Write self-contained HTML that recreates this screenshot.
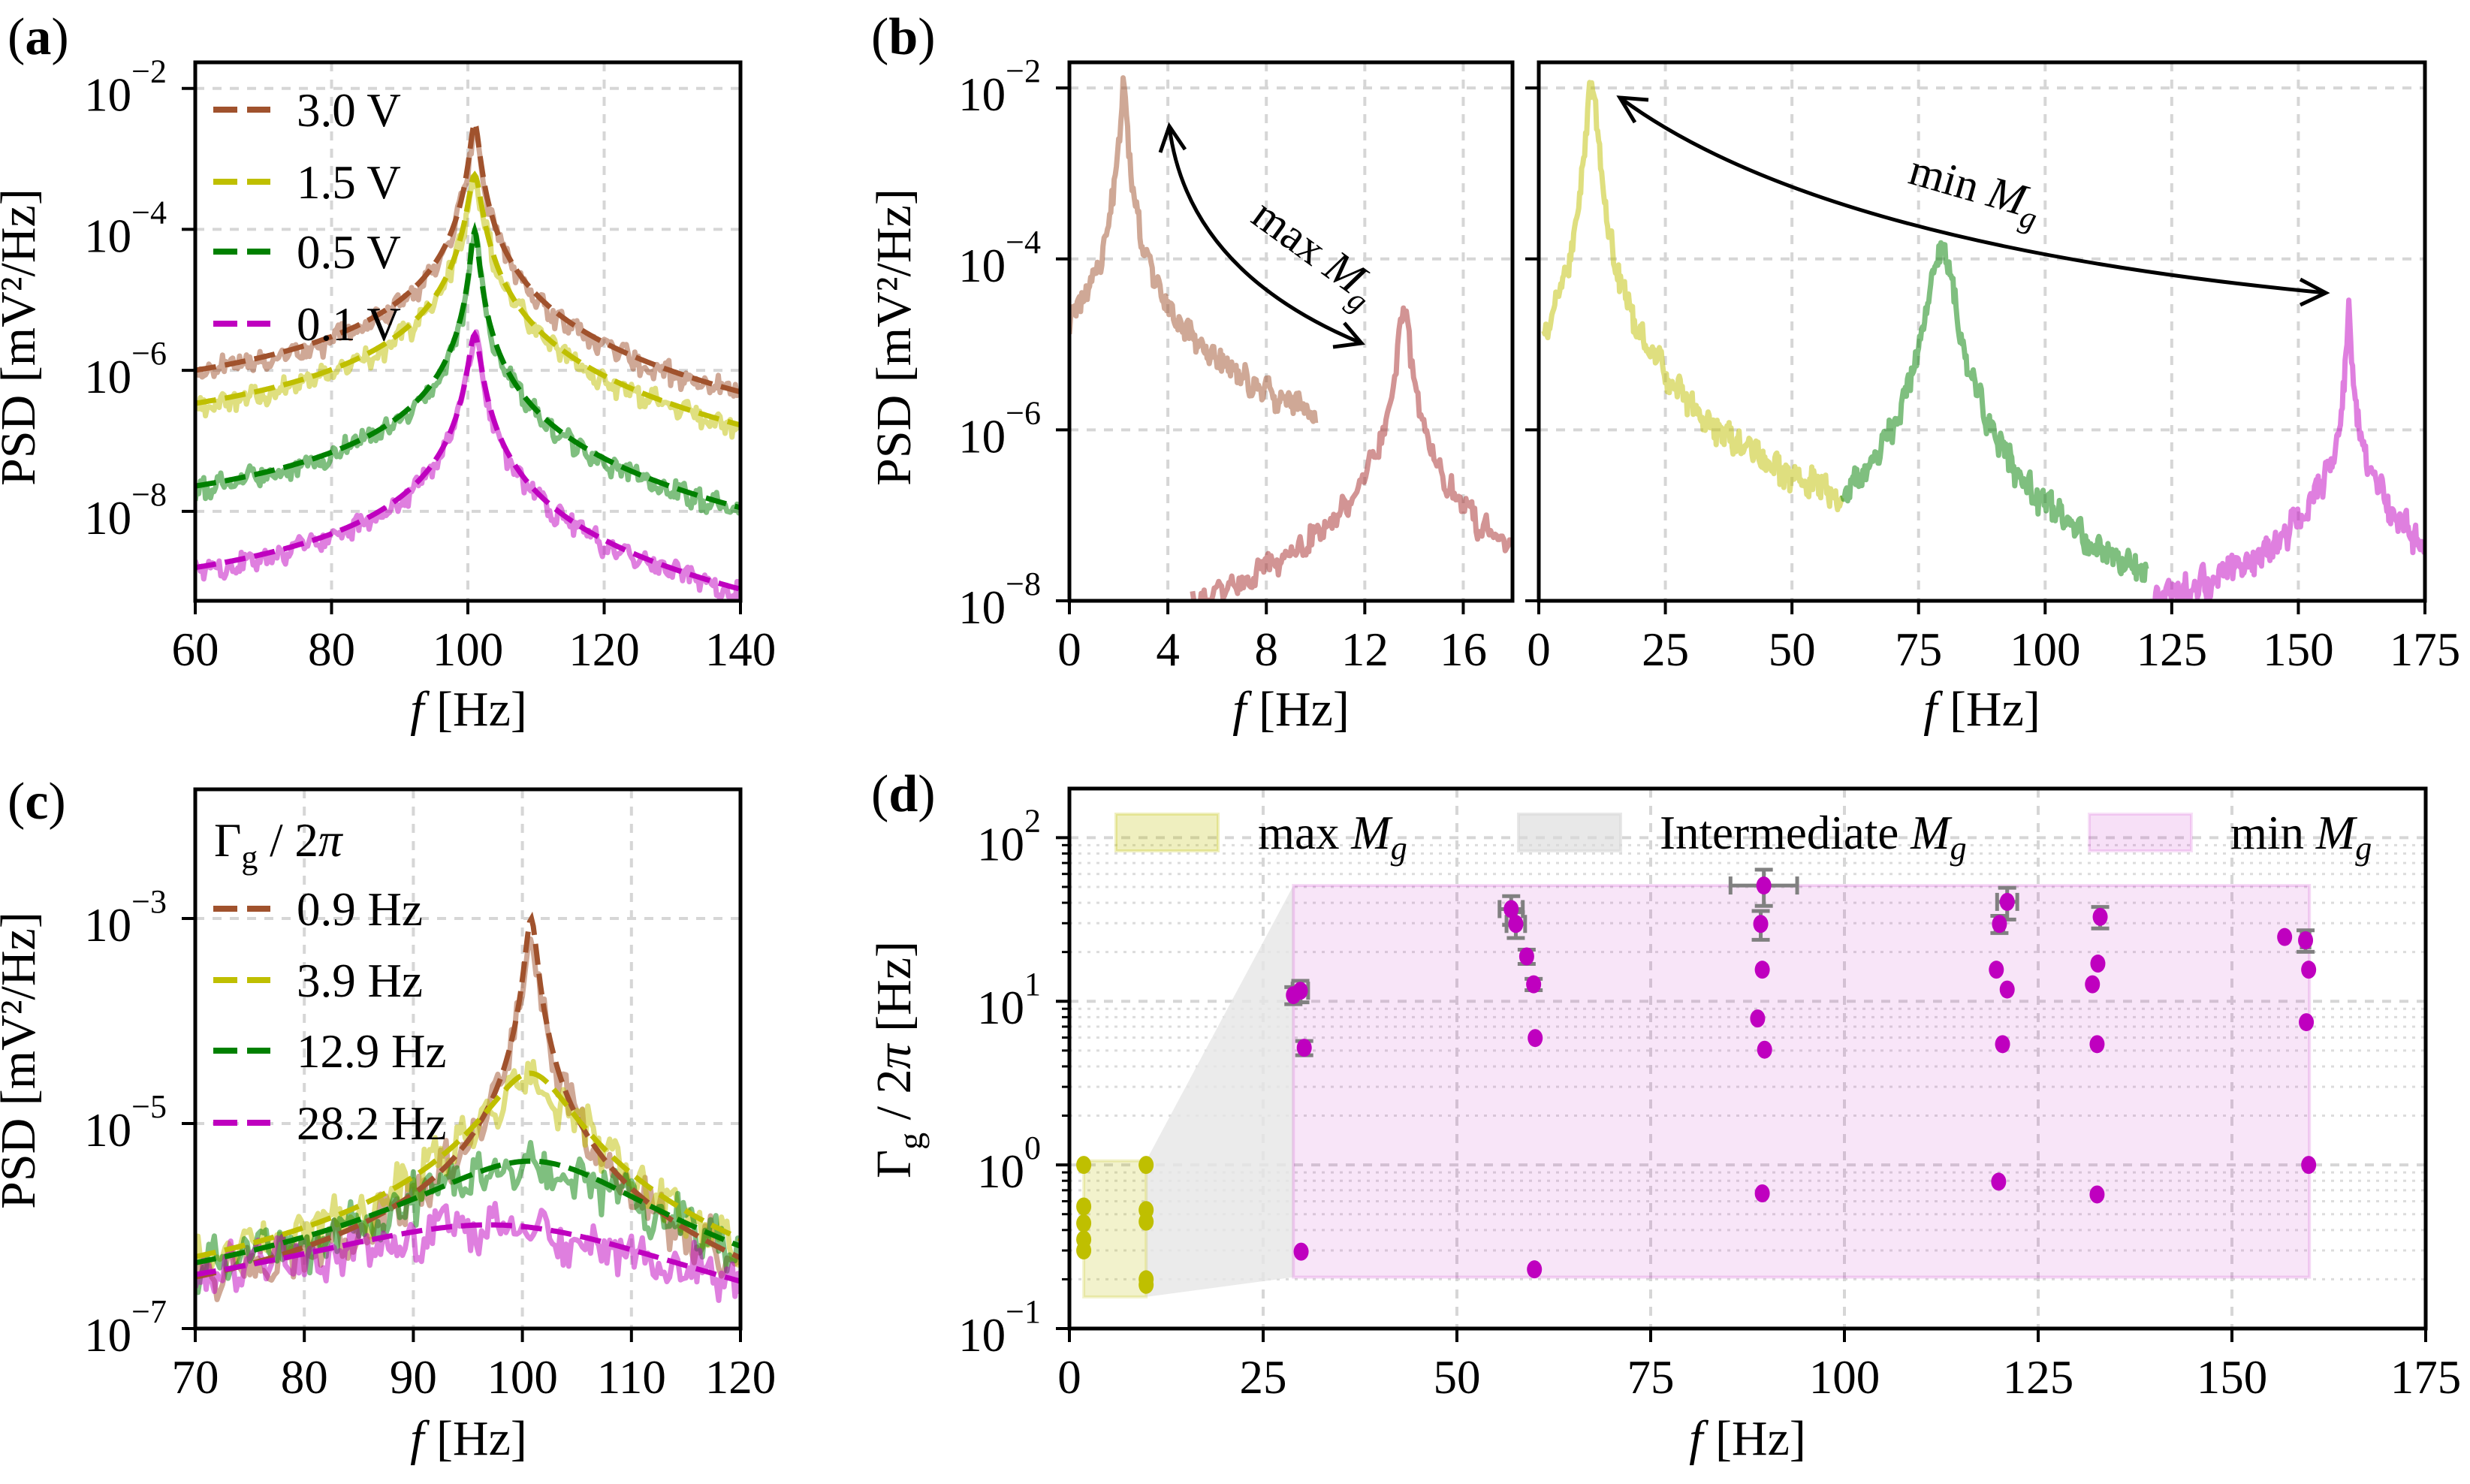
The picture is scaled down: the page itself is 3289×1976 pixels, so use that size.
<!DOCTYPE html>
<html><head><meta charset="utf-8"><style>
html,body{margin:0;padding:0;background:#fff;}
svg, svg text{font-family:"Liberation Serif","Times New Roman",serif;}
</style></head><body>
<svg id="fig" xmlns="http://www.w3.org/2000/svg" width="3289" height="1971" viewBox="0 0 3289 1971" font-family="Liberation Serif, serif">
<defs>
<clipPath id="clipA"><rect x="260" y="83" width="726" height="717"/></clipPath>
<clipPath id="clipB1"><rect x="1424" y="83" width="590" height="717"/></clipPath>
<clipPath id="clipB2"><rect x="2049" y="83" width="1180" height="717"/></clipPath>
<clipPath id="clipC"><rect x="260" y="1051" width="726" height="718"/></clipPath>
<clipPath id="clipD"><rect x="1424" y="1050" width="1806" height="719"/></clipPath>
</defs>
<g id="root" font-family="Liberation Serif, serif"></g>
</svg>
<script>
// ---------- data ----------
const noiseVals=[0.3,-0.5,0.8,-0.2,0.1,-0.9,0.6,0.2,-0.4,0.7,-0.7,0.0,0.5,-0.3,0.9,-0.6,0.2,-0.1,0.4,-0.8,0.6,-0.2,0.3,-0.5,0.1,0.8,-0.4,-0.9,0.5,0.2,-0.3,0.7,-0.1,0.4,-0.6,0.9,-0.2,0.1,-0.7,0.3,0.6,-0.4,0.2,-0.8,0.5,0.0,-0.5,0.7,-0.3,0.4,-0.1,0.8,-0.6,0.2,-0.9,0.3,0.5,-0.2,0.6,-0.4,0.1,-0.7,0.9,-0.3,0.2,-0.5,0.4,-0.1,0.7,-0.8,0.3,0.0,-0.6,0.5,-0.2,0.8,-0.4,0.1,-0.9,0.6,-0.3,0.4,0.2,-0.7,0.5,-0.1,0.3,-0.5,0.9,-0.2,0.1,-0.6,0.7,-0.4,0.2,-0.8,0.4];
// panel (a): drive voltages, harmonic oscillator fits
const aLabels=["3.0 V","1.5 V","0.5 V","0.1 V"];
const aPeakLog=[-2.49,-3.23,-4.02,-5.49];
const aGamma=[1.15,1.57,1.01,1.45];
const aF0=[101,101,101,101];
const aColors=["#a0522d","#bfbf00","#008000","#bf00bf"];
// panel (b)
const b1F0=[2.2,13.6], b1Peak=[-1.93,-4.59], b1Width=[0.09,0.17], b1Pow=[2,2], b1Start=[0,5], b1End=[10,18];
const b1Colors=["#a0522d","#a52a2a"];
const b2F0=[10.5,79.5,160], b2Peak=[-2.08,-3.92,-4.5], b2Width=[0.89,1.82,0.25], b2Pow=[2.7,2.8,1.6], b2Start=[1,60,120], b2End=[60,120,175];
const b2Colors=["#bfbf00","#008000","#bf00bf"];
// panel (c)
const cLabels=["0.9 Hz","3.9 Hz","12.9 Hz","28.2 Hz"];
const cPeakLog=[-3.0,-4.51,-5.37,-6.0];
const cGamma=[0.93,6.67,17.5,31.9];
const cF0=[100.8,100.8,101.5,99.5];
// panel (d)
const dYellowF=[1.85,1.85,1.85,1.85,1.85,9.9,9.9,9.9,9.9,9.9];
const dYellowG=[1.0,0.557,0.44,0.35,0.30,1.0,0.53,0.45,0.2,0.185];
const dMagF=[28.9,29.8,30.3,29.9,57.0,57.6,59.0,59.9,60.1,60.0,89.6,89.2,89.4,88.8,89.7,89.4,121.0,120.0,119.6,121.0,120.4,119.9,133.0,132.7,132.0,132.6,132.6,156.8,159.5,159.9,159.6,159.9];
const dMagG=[10.9,11.6,5.2,0.295,36.6,29.7,18.8,12.7,5.96,0.23,51,29.7,15.6,7.85,5.06,0.67,40.5,29.7,15.6,11.8,5.47,0.79,32.8,17.0,12.7,5.47,0.66,24.7,23.6,15.6,7.45,1.0];
const dXErr=[0,1.0,0,0,1.5,1.2,0,0,0,0,4.3,0,0,0,0,0,1.3,0.5,0,0,0,0,0,0,0,0,0,0,0.5,0,0,0];
const dYErrRel=[0.12,0.15,0.1,0,0.2,0.18,0.1,0.08,0,0,0.25,0.2,0,0,0,0,0.22,0.12,0,0,0,0,0.15,0,0,0,0,0,0.15,0,0,0];
const dYellowBox=[1.85,9.9,0.156,1.06];
const dPinkBox=[28.9,160.0,0.206,51];

// ---------- helpers ----------
const NS="http://www.w3.org/2000/svg";
const FONT="Liberation Serif, serif";
const root=document.getElementById('root');
function el(tag,attrs,parent){const e=document.createElementNS(NS,tag);for(const k in attrs)e.setAttribute(k,attrs[k]);if(tag==='text')e.setAttribute('font-family',FONT);(parent||root).appendChild(e);return e;}
function linX(x0,x1,p0,p1){return v=>p0+(v-x0)/(x1-x0)*(p1-p0);}
function logY(l0,l1,p0,p1){return v=>p0+(Math.log10(v)-l0)/(l1-l0)*(p1-p0);}
function logYl(l0,l1,p0,p1){return lv=>p0+(lv-l0)/(l1-l0)*(p1-p0);}
function ho(f,f0,g,pk){const d=(f0*f0-f*f);return pk+Math.log10(g*g*f0*f0/(d*d+g*g*f*f));}
function lor(f,f0,g,p,pk){return pk-Math.log10(1+Math.pow(Math.abs(f-f0)/g,p));}
function nz(i,off){const N=noiseVals.length;return 0.6*noiseVals[(i*13+off)%N]+0.4*noiseVals[(Math.floor(i/3)*7+off*3)%N];}
function pathFrom(pts){return pts.map((p,i)=>(i?'L':'M')+p[0].toFixed(1)+' '+p[1].toFixed(1)).join('');}
function grid(g,x1,y1,x2,y2,dash){return el('line',{x1,y1,x2,y2,stroke:'#d6d6d6','stroke-width':4,'stroke-dasharray':dash||'12,11'},g);}
function ytickLabel(g,x,y,exp){const t=el('text',{x:x,y:y+30,'text-anchor':'end','font-size':63},g);t.textContent='10';const s=el('tspan',{dy:-38,'font-size':44},t);s.textContent=exp;return t;}
function axesFrame(g,x0,y0,x1,y1){el('rect',{x:x0,y:y0,width:x1-x0,height:y1-y0,fill:'none',stroke:'#000','stroke-width':5},g);}
function xlabel(g,cx,y){const t=el('text',{x:cx,y:y,'text-anchor':'middle','font-size':66},g);const a=el('tspan',{'font-style':'italic'},t);a.textContent='f';const b=el('tspan',{},t);b.textContent=' [Hz]';}
function psdLabel(g,cx,cy){const t=el('text',{x:0,y:0,'text-anchor':'middle','font-size':66,transform:`translate(${cx},${cy}) rotate(-90)`},g);t.textContent='PSD [mV²/Hz]';}
function panelLabel(x,y,ch){const t=el('text',{x:x,y:y,'font-size':70});t.textContent='(';const b=el('tspan',{'font-weight':'bold'},t);b.textContent=ch;const c=el('tspan',{},t);c.textContent=')';}
function xticks(g,vals,X,yb,labels){vals.forEach((v,i)=>{el('line',{x1:X(v),y1:yb,x2:X(v),y2:yb+18,stroke:'#000','stroke-width':4},g);if(labels){const t=el('text',{x:X(v),y:yb+86,'text-anchor':'middle','font-size':63},g);t.textContent=labels[i];}});}

// ================= Panel (a) =================
(function(){
const g=el('g',{});
const X=linX(60,140,260,986), Y=logYl(-9.27,-1.63,800,83);
const xt=[60,80,100,120,140];
[80,100,120].forEach(v=>grid(g,X(v),83,X(v),800));
[-2,-4,-6,-8].forEach(v=>grid(g,260,Y(v),986,Y(v)));
const cg=el('g',{'clip-path':'url(#clipA)'},g);
for(let k=0;k<4;k++){
 const pts=[];for(let i=0;i<=320;i++){const f=60+80*i/320;pts.push([X(f),Y(ho(f,aF0[k],aGamma[k],aPeakLog[k])+0.22*nz(i,k*17)-0.05)]);}
 const p=el('path',{d:pathFrom(pts),fill:'none',stroke:aColors[k],'stroke-opacity':0.5,'stroke-width':7,'stroke-linejoin':'round'},cg);
 
}
for(let k=0;k<4;k++){
 const pts=[];for(let i=0;i<=400;i++){const f=60+80*i/400;pts.push([X(f),Y(ho(f,aF0[k],aGamma[k],aPeakLog[k]))]);}
 const p=el('path',{d:pathFrom(pts),fill:'none',stroke:aColors[k],'stroke-width':7,'stroke-dasharray':'28,12'},cg);
 
}
axesFrame(g,260,83,986,800);
xticks(g,xt,X,800,xt.map(String));
[-2,-4,-6,-8].forEach(v=>{el('line',{x1:242,y1:Y(v),x2:260,y2:Y(v),stroke:'#000','stroke-width':4},g);ytickLabel(g,222,Y(v),'−'+(-v));});
const ly=[146,242,335,431];
aLabels.forEach((s,k)=>{const l=el('line',{x1:284,y1:ly[k],x2:360,y2:ly[k],stroke:aColors[k],'stroke-width':8,'stroke-dasharray':'32,13'},g);
 
 const t=el('text',{x:395,y:ly[k]+22,'font-size':63},g);t.textContent=s;});
psdLabel(g,46,449);xlabel(g,624,966);
})();
panelLabel(10,72,'a');

// ================= Panel (b) =================
(function(){
const g=el('g',{});
const Y=logYl(-8,-1.70,800,83);
const X1=linX(0,18,1424,2014), X2=linX(0,175,2049,3229);
[4,8,12,16].forEach(v=>grid(g,X1(v),83,X1(v),800));
[25,50,75,100,125,150].forEach(v=>grid(g,X2(v),83,X2(v),800));
[-2,-4,-6].forEach(v=>{grid(g,1424,Y(v),2014,Y(v));grid(g,2049,Y(v),3229,Y(v));});
const c1=el('g',{'clip-path':'url(#clipB1)'},g), c2=el('g',{'clip-path':'url(#clipB2)'},g);
for(let k=0;k<2;k++){const pts=[];const n=220;for(let i=0;i<=n;i++){const f=b1Start[k]+(b1End[k]-b1Start[k])*i/n;pts.push([X1(f),Y(lor(f,b1F0[k],b1Width[k],b1Pow[k],b1Peak[k])+0.22*nz(i,k*23+5))]);}
 const p=el('path',{d:pathFrom(pts),fill:'none',stroke:b1Colors[k],'stroke-opacity':0.5,'stroke-width':7,'stroke-linejoin':'round'},c1);}
for(let k=0;k<3;k++){const pts=[];const n=300;for(let i=0;i<=n;i++){const f=b2Start[k]+(b2End[k]-b2Start[k])*i/n;pts.push([X2(f),Y(lor(f,b2F0[k],b2Width[k],b2Pow[k],b2Peak[k])+0.25*nz(i,k*31+9))]);}
 const p=el('path',{d:pathFrom(pts),fill:'none',stroke:b2Colors[k],'stroke-opacity':0.5,'stroke-width':7,'stroke-linejoin':'round'},c2);}
axesFrame(g,1424,83,2014,800);axesFrame(g,2049,83,3229,800);
const t1=[0,4,8,12,16], t2=[0,25,50,75,100,125,150,175];
xticks(g,t1,X1,800,t1.map(String));xticks(g,t2,X2,800,t2.map(String));
[-2,-4,-6,-8].forEach(v=>{el('line',{x1:1406,y1:Y(v),x2:1424,y2:Y(v),stroke:'#000','stroke-width':4},g);el('line',{x1:2031,y1:Y(v),x2:2049,y2:Y(v),stroke:'#000','stroke-width':4},g);ytickLabel(g,1386,Y(v),'−'+(-v));});
const a1=el('path',{d:'M1557 168 Q1581 361 1813 457',fill:'none',stroke:'#000','stroke-width':5},g);
el('path',{d:'M1545 203 L1557 168 L1578 199',fill:'none',stroke:'#000','stroke-width':5},g);
el('path',{d:'M1775 462 L1813 457 L1790 430',fill:'none',stroke:'#000','stroke-width':5},g);
const ta=el('text',{x:0,y:0,'text-anchor':'middle','font-size':60,transform:'translate(1740,350) rotate(36)'},g);ta.textContent='max ';const tm=el('tspan',{'font-style':'italic'},ta);tm.textContent='M';const ts=el('tspan',{'font-style':'italic','font-size':42,dy:14},ta);ts.textContent='g';

const a2=el('path',{d:'M2157 130 Q2421 326 3097 390',fill:'none',stroke:'#000','stroke-width':5},g);
el('path',{d:'M2177 163 L2157 130 L2195 133',fill:'none',stroke:'#000','stroke-width':5},g);
el('path',{d:'M3063 372 L3097 390 L3063 406',fill:'none',stroke:'#000','stroke-width':5},g);
const tb=el('text',{x:0,y:0,'text-anchor':'middle','font-size':60,transform:'translate(2625,268) rotate(16)'},g);tb.textContent='min ';const tm2=el('tspan',{'font-style':'italic'},tb);tm2.textContent='M';const ts2=el('tspan',{'font-style':'italic','font-size':42,dy:14},tb);ts2.textContent='g';

psdLabel(g,1212,449);xlabel(g,1719,966);xlabel(g,2639,966);
})();
panelLabel(1160,72,'b');

// ================= Panel (c) =================
(function(){
const g=el('g',{});
const X=linX(70,120,260,986), Y=logYl(-7,-1.74,1769,1051);
[80,90,100,110].forEach(v=>grid(g,X(v),1051,X(v),1769));
[-3,-5].forEach(v=>grid(g,260,Y(v),986,Y(v)));
const cg=el('g',{'clip-path':'url(#clipC)'},g);
for(let k=0;k<4;k++){const pts=[];for(let i=0;i<=200;i++){const f=70+50*i/200;pts.push([X(f),Y(ho(f,cF0[k],cGamma[k],cPeakLog[k])+0.35*nz(i,k*19+3)-0.05)]);}
 const p=el('path',{d:pathFrom(pts),fill:'none',stroke:aColors[k],'stroke-opacity':0.5,'stroke-width':7,'stroke-linejoin':'round'},cg);}
for(let k=0;k<4;k++){const pts=[];for(let i=0;i<=300;i++){const f=70+50*i/300;pts.push([X(f),Y(ho(f,cF0[k],cGamma[k],cPeakLog[k]))]);}
 const p=el('path',{d:pathFrom(pts),fill:'none',stroke:aColors[k],'stroke-width':7,'stroke-dasharray':'28,12'},cg);}
axesFrame(g,260,1051,986,1769);
const xt=[70,80,90,100,110,120];xticks(g,xt,X,1769,xt.map(String));
[-3,-5,-7].forEach(v=>{el('line',{x1:242,y1:Y(v),x2:260,y2:Y(v),stroke:'#000','stroke-width':4},g);ytickLabel(g,222,Y(v),'−'+(-v));});
const tt=el('text',{x:285,y:1140,'font-size':63},g);tt.textContent='Γ';const sg=el('tspan',{'font-size':44,dy:16},tt);sg.textContent='g';const rest=el('tspan',{dy:-16},tt);rest.textContent=' / 2';const pi=el('tspan',{'font-style':'italic'},tt);pi.textContent='π';

const ly=[1210,1305,1399,1495];
cLabels.forEach((s,k)=>{const l=el('line',{x1:284,y1:ly[k],x2:360,y2:ly[k],stroke:aColors[k],'stroke-width':8,'stroke-dasharray':'32,13'},g);
 const t=el('text',{x:395,y:ly[k]+22,'font-size':63},g);t.textContent=s;});
psdLabel(g,46,1412);xlabel(g,624,1937);
})();
panelLabel(10,1090,'c');

// ================= Panel (d) =================
(function(){
const g=el('g',{});
const X=linX(0,175,1424,3230), Y=logY(-1,2.30,1769,1050);
for(let e=-1;e<2;e++)for(let m=2;m<10;m++){const v=m*Math.pow(10,e);el('line',{x1:1424,y1:Y(v),x2:3230,y2:Y(v),stroke:'#dcdcdc','stroke-width':3,'stroke-dasharray':'4,8'},g);el('line',{x1:1414,y1:Y(v),x2:1424,y2:Y(v),stroke:'#000','stroke-width':3},g);}
[25,50,75,100,125,150].forEach(v=>grid(g,X(v),1050,X(v),1769));
[1,10,100].forEach(v=>grid(g,1424,Y(v),3230,Y(v)));
const cg=el('g',{'clip-path':'url(#clipD)'},g);
const gp=el('polygon',{points:`${X(dYellowBox[1])},${Y(dYellowBox[3])} ${X(dPinkBox[0])},${Y(dPinkBox[3])} ${X(dPinkBox[0])},${Y(dPinkBox[2])} ${X(dYellowBox[1])},${Y(dYellowBox[2])}`,fill:'#e6e6e6','fill-opacity':0.8},cg);

const yb=el('rect',{x:X(dYellowBox[0]),y:Y(dYellowBox[3]),width:X(dYellowBox[1])-X(dYellowBox[0]),height:Y(dYellowBox[2])-Y(dYellowBox[3]),fill:'#bfbf00','fill-opacity':0.2,stroke:'#bfbf00','stroke-opacity':0.2,'stroke-width':4},cg);

const pb=el('rect',{x:X(dPinkBox[0]),y:Y(dPinkBox[3]),width:X(dPinkBox[1])-X(dPinkBox[0]),height:Y(dPinkBox[2])-Y(dPinkBox[3]),fill:'#bf00bf','fill-opacity':0.1,stroke:'#bf00bf','stroke-opacity':0.15,'stroke-width':4},cg);

dMagF.forEach((f,i)=>{const v=dMagG[i];
 if(dXErr[i]>0){el('line',{x1:X(f-dXErr[i]),y1:Y(v),x2:X(f+dXErr[i]),y2:Y(v),stroke:'#808080','stroke-width':5},cg);[f-dXErr[i],f+dXErr[i]].forEach(xx=>el('line',{x1:X(xx),y1:Y(v)-12,x2:X(xx),y2:Y(v)+12,stroke:'#808080','stroke-width':5},cg));}
 if(dYErrRel[i]>0){const hi=v*(1+dYErrRel[i]),lo=v*(1-dYErrRel[i]);el('line',{x1:X(f),y1:Y(hi),x2:X(f),y2:Y(lo),stroke:'#808080','stroke-width':5},cg);[hi,lo].forEach(yy=>el('line',{x1:X(f)-12,y1:Y(yy),x2:X(f)+12,y2:Y(yy),stroke:'#808080','stroke-width':5},cg));}});
dYellowF.forEach((f,i)=>{const c=el('ellipse',{cx:X(f),cy:Y(dYellowG[i]),rx:10,ry:12,fill:'#bfbf00'},cg);});
dMagF.forEach((f,i)=>{const c=el('ellipse',{cx:X(f),cy:Y(dMagG[i]),rx:10,ry:12,fill:'#bf00bf'},cg);});
axesFrame(g,1424,1050,3230,1769);
const xt=[0,25,50,75,100,125,150,175];xticks(g,xt,X,1769,xt.map(String));
[[0.1,'−1'],[1,'0'],[10,'1'],[100,'2']].forEach(([v,s])=>{el('line',{x1:1406,y1:Y(v),x2:1424,y2:Y(v),stroke:'#000','stroke-width':4},g);ytickLabel(g,1386,Y(v),s);});
const lg=[[1486,'#bfbf00',0.25,1675,'max '],[2022,'#d9d9d9',0.6,2210,'Intermediate '],[2782,'#bf00bf',0.12,2970,'min ']];
lg.forEach(([x,c,o,tx,s])=>{const r=el('rect',{x:x,y:1084,width:136,height:49,fill:c,'fill-opacity':o,stroke:c,'stroke-opacity':o,'stroke-width':4},g);
 const t=el('text',{x:tx,y:1130,'font-size':63},g);t.textContent=s;const m=el('tspan',{'font-style':'italic'},t);m.textContent='M';const sb=el('tspan',{'font-style':'italic','font-size':44,dy:14},t);sb.textContent='g';});
const yl=el('text',{x:0,y:0,'text-anchor':'middle','font-size':66,transform:'translate(1212,1411) rotate(-90)'},g);yl.textContent='Γ';const s1=el('tspan',{'font-size':46,dy:16},yl);s1.textContent='g';const s2=el('tspan',{dy:-16},yl);s2.textContent=' / 2';const s3=el('tspan',{'font-style':'italic'},yl);s3.textContent='π';const s4=el('tspan',{},yl);s4.textContent=' [Hz]';

xlabel(g,2327,1937);
})();
panelLabel(1160,1080,'d');
</script>
</body></html>
